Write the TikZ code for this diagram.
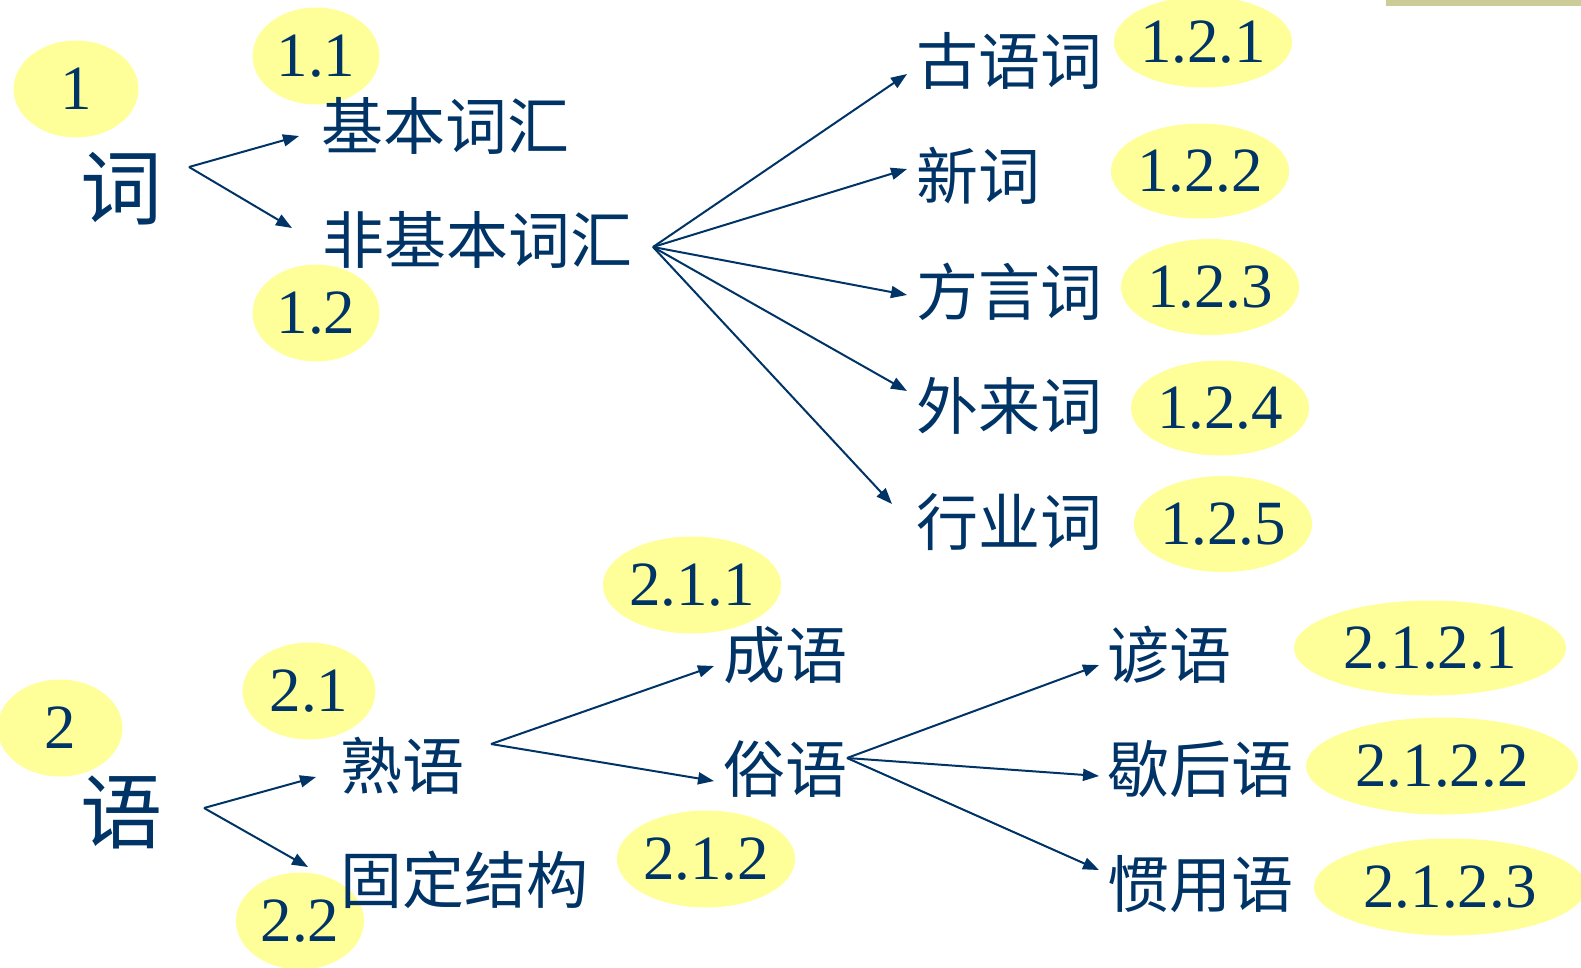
\documentclass[tikz,border=0pt]{standalone}
\usepackage{fontspec}
\setmainfont{Liberation Serif}
\newfontfamily\cjk{Noto Sans CJK SC}
\usetikzlibrary{shapes.geometric,arrows.meta,positioning}

\definecolor{navy}{RGB}{0,51,102}
\definecolor{tagyellow}{RGB}{255,255,153}
\definecolor{barkhaki}{RGB}{204,204,153}

\tikzset{
  tag/.style 2 args={ellipse, fill=tagyellow, inner sep=0pt, text=navy,
    minimum width=#1, minimum height=#2, font=\fontsize{63}{63}\selectfont},
  term/.style={anchor=west, inner sep=0pt, text=navy, font=\cjk\fontsize{62}{62}\selectfont},
  head/.style={inner sep=0pt, text=navy, font=\cjk\fontsize{82}{82}\selectfont},
  arr/.style={-{Triangle[length=16pt,width=12pt]}, navy, line width=2pt},
}

\begin{document}
\begin{tikzpicture}[x=1pt,y=-1pt]
\useasboundingbox (0,0) rectangle (1581,967);

% bar in the corner
\fill[barkhaki] (1386,0) rectangle (1581,6);

% number tags (under the words)
\node[tag={125}{97}] (t1) at (76,89) {1};
\node[tag={127}{97}] (t11) at (316,56) {1.1};
\node[tag={127}{97}] (t12) at (316,313) {1.2};
\node[tag={175}{91}] (t121) at (1203,42) {1.2.1};
\node[tag={175}{95}] (t122) at (1200,171) {1.2.2};
\node[tag={175}{96}] (t123) at (1210,287) {1.2.3};
\node[tag={175}{95}] (t124) at (1220,408) {1.2.4};
\node[tag={175}{96}] (t125) at (1223,524) {1.2.5};

\node[tag={125}{97}] (t2) at (60,728) {2};
\node[tag={133}{97}] (t21) at (309,691) {2.1};
\node[tag={128}{97}] (t22) at (300,921) {2.2};
\node[tag={174}{97}] (t211) at (692,585) {2.1.1};
\node[tag={176}{97}] (t212) at (706,859) {2.1.2};
\node[tag={272}{95}] (t2121) at (1430,648) {2.1.2.1};
\node[tag={272}{97}] (t2122) at (1442,766) {2.1.2.2};
\node[tag={272}{97}] (t2123) at (1450,887) {2.1.2.3};

% words
\node[head] (ci) at (121,189) {词};
\node[term] (jiben) at (321,126) {基本词汇};
\node[term] (feijiben) at (322,240) {非基本词汇};
\node[term] (guyu) at (916,61) {古语词};
\node[term] (xinci) at (916,176) {新词};
\node[term] (fangyan) at (916,292) {方言词};
\node[term] (wailai) at (916,406) {外来词};
\node[term] (hangye) at (916,522) {行业词};

\node[head] (yu) at (121,812) {语};
\node[term] (shuyu) at (340,766) {熟语};
\node[term] (guding) at (340,880) {固定结构};
\node[term] (chengyu) at (723,655) {成语};
\node[term] (suyu) at (723,769) {俗语};
\node[term] (yanyu) at (1107,655) {谚语};
\node[term] (xiehou) at (1107,769) {歇后语};
\node[term] (guanyong) at (1107,884) {惯用语};

% fan points
\coordinate (fanA) at (189,167);
\coordinate (fanB) at (653,247);
\coordinate (fanC) at (204,808);
\coordinate (fanD) at (491,744);
\coordinate (fanE) at (847,758);

% arrows
\draw[arr] (fanA) -- ([shift={(-22,10)}]jiben.west);
\draw[arr] (fanA) -- ([shift={(-30,-12)}]feijiben.west);

\draw[arr] (fanB) -- ([shift={(-9,13)}]guyu.west);
\draw[arr] (fanB) -- ([shift={(-9,-7)}]xinci.west);
\draw[arr] (fanB) -- ([shift={(-9,3)}]fangyan.west);
\draw[arr] (fanB) -- ([shift={(-9,-15)}]wailai.west);
\draw[arr] (fanB) -- ([shift={(-24,-18)}]hangye.west);

\draw[arr] (fanC) -- ([shift={(-24,11)}]shuyu.west);
\draw[arr] (fanC) -- ([shift={(-32,-13)}]guding.west);

\draw[arr] (fanD) -- ([shift={(-9,11)}]chengyu.west);
\draw[arr] (fanD) -- ([shift={(-9,12)}]suyu.west);

\draw[arr] (fanE) -- ([shift={(-8,10)}]yanyu.west);
\draw[arr] (fanE) -- ([shift={(-8,7)}]xiehou.west);
\draw[arr] (fanE) -- ([shift={(-8,-14)}]guanyong.west);

\end{tikzpicture}
\end{document}
